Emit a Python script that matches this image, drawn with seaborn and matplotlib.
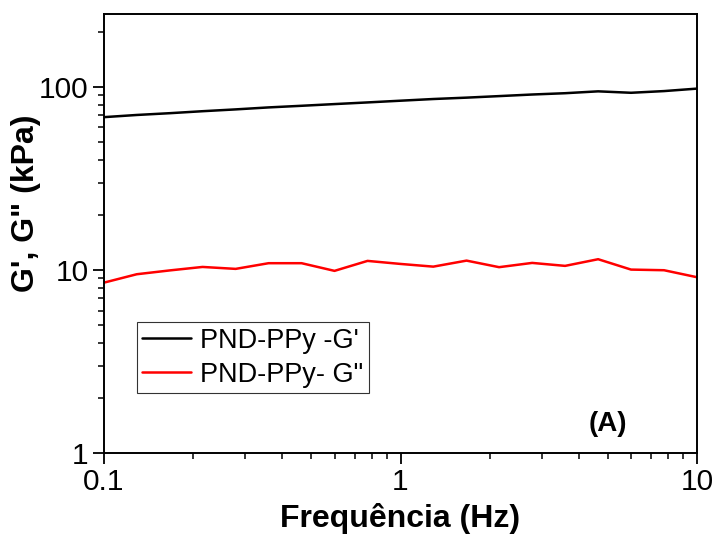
import numpy as np
import pandas as pd
import matplotlib.pyplot as plt
import matplotlib.ticker as mticker
import seaborn as sns

# frequency sweep, 19 log-spaced points 0.1 - 10 Hz
freq = [0.1, 0.129, 0.167, 0.215, 0.278, 0.359, 0.464, 0.599, 0.774, 1.0,
        1.29, 1.67, 2.15, 2.78, 3.59, 4.64, 5.99, 7.74, 10.0]
g_storage = [68.3, 70.2, 71.8, 73.6, 75.3, 77.2, 78.8, 80.5, 82.2, 84.0,
             85.8, 87.3, 89.0, 90.8, 92.3, 94.5, 92.8, 94.8, 97.8]
g_loss = [8.52, 9.47, 9.94, 10.38, 10.13, 10.88, 10.88, 9.88, 11.20, 10.78,
          10.42, 11.24, 10.35, 10.92, 10.52, 11.44, 10.04, 9.96, 9.12]
labels = ["PND-PPy -G'", 'PND-PPy- G"']

df = pd.DataFrame({
    "freq": freq * 2,
    "G": g_storage + g_loss,
    "serie": [labels[0]] * len(freq) + [labels[1]] * len(freq),
})

sns.set_style("ticks")
plt.rcParams["font.family"] = ["Liberation Sans", "DejaVu Sans"]
plt.rcParams["text.color"] = "black"
plt.rcParams["axes.labelcolor"] = "black"
plt.rcParams["xtick.color"] = "black"
plt.rcParams["ytick.color"] = "black"

fig = plt.figure(figsize=(7.18, 5.36), dpi=100)
ax = fig.add_axes([0.1448, 0.1549, 0.826, 0.819])

sns.lineplot(data=df, x="freq", y="G", hue="serie",
             palette={labels[0]: "black", labels[1]: "red"},
             linewidth=1.8, ax=ax, legend=True)

ax.set_xscale("log")
ax.set_yscale("log")
ax.set_xlim(0.1, 10)
ax.set_ylim(1, 250)

ax.xaxis.set_major_formatter(mticker.FuncFormatter(lambda v, _: f"{v:g}"))
ax.yaxis.set_major_formatter(mticker.FuncFormatter(lambda v, _: f"{v:g}"))
ax.xaxis.set_minor_formatter(mticker.NullFormatter())
ax.yaxis.set_minor_formatter(mticker.NullFormatter())
ax.tick_params(axis="both", which="major", direction="out", length=8,
               width=1.3, labelsize=21.5, color="black", labelcolor="black", pad=3)
ax.tick_params(axis="both", which="minor", direction="out", length=4.5,
               width=1.1, color="black")

for sp in ax.spines.values():
    sp.set_visible(True)
    sp.set_linewidth(1.4)
    sp.set_color("black")

ax.set_xlabel("Frequência (Hz)", fontsize=23, fontweight="bold", labelpad=5)
ax.set_ylabel('G\', G" (kPa)', fontsize=23, fontweight="bold")
ax.yaxis.set_label_coords(-0.107, 0.57)

leg = ax.legend(loc="upper left", bbox_to_anchor=(0.055, 0.298),
                fontsize=19.5, frameon=True, fancybox=False, handlelength=1.8,
                borderpad=0.2, labelspacing=0.3, handletextpad=0.35,
                borderaxespad=0)
leg.get_frame().set_edgecolor("black")
leg.get_frame().set_linewidth(0.8)

ax.text(0.85, 0.065, "(A)", transform=ax.transAxes, fontsize=20,
        fontweight="bold", ha="center", va="center")

fig.savefig("out.png", dpi=100)
